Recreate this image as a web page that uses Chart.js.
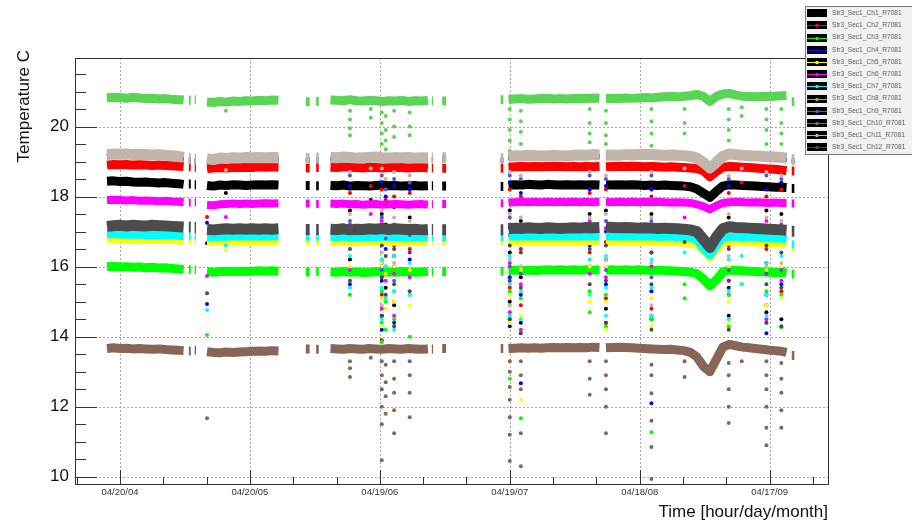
<!DOCTYPE html>
<html>
<head>
<meta charset="utf-8">
<script src="https://cdn.jsdelivr.net/npm/chart.js@4/dist/chart.umd.min.js"></script>
<style>
html,body{margin:0;padding:0;background:#fff;}
canvas{display:block;}
</style>
</head>
<body>
<canvas id="chart" width="912" height="524"></canvas>
<script>
// ---- axis labels ----
const timeLabels = ['04/20/04', '04/20/05', '04/19/06', '04/19/07', '04/18/08', '04/17/09'];
const timeTickPos = [0, 1, 2, 3, 4, 5];
const tempTicks = [10, 12, 14, 16, 18, 20];

const channelNames = [
  'Str3_Sec1_Ch1_R7081', 'Str3_Sec1_Ch2_R7081', 'Str3_Sec1_Ch3_R7081', 'Str3_Sec1_Ch4_R7081',
  'Str3_Sec1_Ch5_R7081', 'Str3_Sec1_Ch6_R7081', 'Str3_Sec1_Ch7_R7081', 'Str3_Sec1_Ch8_R7081',
  'Str3_Sec1_Ch9_R7081', 'Str3_Sec1_Ch10_R7081', 'Str3_Sec1_Ch11_R7081', 'Str3_Sec1_Ch12_R7081'
];

// ---- sampling times (axis units); null readings mark breaks in the run ----
const sampleTimes = [
  -0.10, -0.05, 0.00, 0.05, 0.10, 0.15, 0.20, 0.25, 0.30, 0.35, 0.40, 0.45, 0.49,
  0.51, 0.53, 0.545, 0.56, 0.575, 0.585, 0.62,
  0.67, 0.72, 0.77, 0.82, 0.87, 0.92, 0.97, 1.02, 1.07, 1.12, 1.17, 1.22,
  1.32,
  1.43, 1.46, 1.48, 1.51, 1.53, 1.58,
  1.62, 1.67, 1.72, 1.77, 1.82, 1.87, 1.92, 1.97, 2.02, 2.07, 2.12, 2.17, 2.22, 2.27, 2.32, 2.37,
  2.385, 2.40, 2.41, 2.45, 2.48, 2.51, 2.70, 2.93, 2.95, 2.97,
  2.99, 3.04, 3.09, 3.14, 3.19, 3.24, 3.29, 3.34, 3.39, 3.44, 3.49, 3.54, 3.59, 3.64, 3.69,
  3.715,
  3.74, 3.79, 3.84, 3.89, 3.94, 3.99, 4.04, 4.09, 4.14, 4.19, 4.24, 4.29, 4.34, 4.39, 4.44,
  4.49, 4.54, 4.59, 4.64, 4.69, 4.74, 4.79, 4.84, 4.89, 4.94, 4.99, 5.04, 5.09, 5.13,
  5.15, 5.17, 5.19
];

// ---- channel readings (deg C) at sampleTimes ----
const ch1 = [
  18.44,18.45,18.43,18.44,18.42,18.41,18.42,18.40,18.39,18.40,18.38,18.37,18.35,
  null,18.36,18.36,null,18.34,18.34,null,
  18.32,18.30,18.33,18.32,18.34,18.33,18.32,18.33,18.34,18.33,18.34,18.33,
  null,
  18.32,18.32,null,18.31,18.31,null,
  18.32,18.31,18.33,18.30,18.32,18.31,18.30,18.32,18.33,18.31,18.32,18.30,18.31,18.32,18.30,18.31,
  null,18.31,18.31,null,18.30,18.30,null,18.29,18.29,null,
  18.33,18.34,18.33,18.35,18.34,18.33,18.35,18.34,18.33,18.34,18.33,18.34,18.33,18.34,18.33,
  null,
  18.34,18.33,18.34,18.33,18.34,18.33,18.32,18.33,18.32,18.33,18.32,18.31,18.30,18.28,18.22,
  18.10,17.98,18.15,18.30,18.34,18.33,18.32,18.31,18.30,18.29,18.28,18.27,18.27,18.26,
  null,18.23,18.23
];
const ch2 = [
  18.90,18.92,18.91,18.92,18.90,18.91,18.90,18.89,18.90,18.89,18.88,18.87,18.86,
  null,18.85,18.85,null,18.84,18.84,null,
  18.80,18.82,18.83,18.82,18.84,18.83,18.84,18.83,18.85,18.84,18.85,18.84,
  null,
  18.82,18.82,null,18.83,18.83,null,
  18.84,18.83,18.85,18.84,18.83,18.82,18.84,18.83,18.82,18.83,18.84,18.83,18.82,18.83,18.84,18.82,
  null,18.82,18.82,null,18.81,18.81,null,18.81,18.81,null,
  18.84,18.85,18.86,18.85,18.86,18.85,18.86,18.87,18.86,18.85,18.86,18.85,18.86,18.85,18.86,
  null,
  18.85,18.86,18.87,18.86,18.87,18.86,18.85,18.86,18.85,18.84,18.85,18.84,18.83,18.82,18.80,
  18.74,18.57,18.72,18.84,18.86,18.85,18.84,18.83,18.82,18.80,18.79,18.78,18.76,18.74,
  null,18.73,18.73
];
const ch3 = [
  16.00,16.01,15.99,16.00,15.98,15.99,15.97,15.98,15.96,15.97,15.95,15.93,15.92,
  null,15.92,15.92,null,15.91,15.91,null,
  15.86,15.84,15.86,15.87,15.86,15.87,15.86,15.87,15.88,15.87,15.88,15.87,
  null,
  15.85,15.85,null,15.86,15.86,null,
  15.85,15.84,15.86,15.84,15.85,15.83,15.84,15.86,15.84,15.85,15.84,15.86,15.85,15.84,15.85,15.86,
  null,15.85,15.85,null,15.86,15.86,null,15.87,15.87,null,
  15.89,15.90,15.89,15.90,15.89,15.90,15.91,15.90,15.91,15.90,15.91,15.90,15.91,15.90,15.91,
  null,
  15.90,15.91,15.90,15.91,15.90,15.91,15.90,15.89,15.90,15.89,15.88,15.87,15.86,15.84,15.80,
  15.65,15.45,15.62,15.85,15.90,15.89,15.88,15.87,15.86,15.85,15.84,15.83,15.84,15.82,
  null,15.79,15.79
];
const ch4 = [
  19.14,19.16,19.15,19.16,19.14,19.15,19.14,19.13,19.14,19.12,19.11,19.09,19.06,
  null,19.03,19.03,null,19.01,19.01,null,
  19.02,19.00,19.04,19.03,19.05,19.04,19.06,19.05,19.06,19.05,19.06,19.05,
  null,
  19.03,19.03,null,19.04,19.04,null,
  19.06,19.05,19.07,19.06,19.04,19.05,19.06,19.07,19.05,19.04,19.06,19.05,19.06,19.04,19.05,19.04,
  null,19.04,19.04,null,19.05,19.05,null,19.03,19.03,null,
  19.09,19.11,19.10,19.12,19.11,19.10,19.11,19.12,19.11,19.10,19.12,19.13,19.12,19.14,19.13,
  null,
  19.12,19.13,19.12,19.14,19.13,19.14,19.15,19.14,19.13,19.12,19.13,19.12,19.11,19.09,19.04,
  18.92,18.76,18.92,19.09,19.16,19.14,19.12,19.11,19.10,19.09,19.08,19.07,19.06,19.04,
  null,19.00,19.00
];
const ch5 = [
  16.79,16.80,16.78,16.79,16.78,16.77,16.78,16.77,16.76,16.77,16.76,16.75,16.74,
  null,16.74,16.74,null,16.73,16.73,null,
  16.71,16.70,16.72,16.73,16.72,16.73,16.72,16.73,16.74,16.73,16.74,16.73,
  null,
  16.72,16.72,null,16.72,16.72,null,
  16.71,16.70,16.72,16.70,16.71,16.70,16.72,16.71,16.70,16.71,16.72,16.70,16.71,16.70,16.71,16.70,
  null,16.70,16.70,null,16.71,16.71,null,16.70,16.70,null,
  16.73,16.72,16.73,16.72,16.73,16.72,16.73,16.72,16.73,16.72,16.73,16.72,16.73,16.72,16.73,
  null,
  16.73,16.72,16.73,16.72,16.73,16.72,16.71,16.72,16.71,16.70,16.71,16.70,16.69,16.68,16.62,
  16.45,16.26,16.50,16.68,16.72,16.71,16.70,16.70,16.69,16.68,16.67,16.66,16.66,16.65,
  null,16.54,16.54
];
const ch6 = [
  17.90,17.91,17.90,17.89,17.90,17.88,17.89,17.88,17.87,17.88,17.86,17.85,17.84,
  null,17.83,17.83,null,17.84,17.84,null,
  17.76,17.75,17.78,17.79,17.80,17.79,17.80,17.79,17.80,17.81,17.80,17.81,
  null,
  17.80,17.80,null,17.79,17.79,null,
  17.80,17.79,17.80,17.78,17.79,17.77,17.78,17.79,17.77,17.78,17.79,17.78,17.77,17.78,17.79,17.77,
  null,17.78,17.78,null,17.79,17.79,null,17.81,17.81,null,
  17.83,17.84,17.85,17.84,17.85,17.84,17.85,17.84,17.85,17.84,17.85,17.84,17.85,17.84,17.85,
  null,
  17.85,17.84,17.85,17.84,17.85,17.84,17.85,17.84,17.85,17.84,17.83,17.84,17.83,17.82,17.78,
  17.72,17.64,17.74,17.82,17.84,17.85,17.84,17.83,17.84,17.83,17.82,17.83,17.82,17.82,
  null,17.80,17.80
];
const ch7 = [
  16.92,16.93,16.92,16.91,16.92,16.91,16.90,16.91,16.90,16.89,16.90,16.88,16.87,
  null,16.87,16.87,null,16.87,16.87,null,
  16.84,16.83,16.86,16.85,16.87,16.86,16.87,16.86,16.87,16.86,16.87,16.86,
  null,
  16.85,16.85,null,16.85,16.85,null,
  16.85,16.84,16.86,16.84,16.85,16.83,16.85,16.84,16.86,16.84,16.85,16.84,16.83,16.85,16.84,16.83,
  null,16.84,16.84,null,16.84,16.84,null,16.84,16.84,null,
  16.86,16.87,16.86,16.87,16.86,16.87,16.86,16.87,16.86,16.87,16.86,16.87,16.86,16.87,16.86,
  null,
  16.87,16.86,16.87,16.86,16.87,16.86,16.87,16.86,16.85,16.86,16.85,16.84,16.83,16.82,16.75,
  16.50,16.32,16.60,16.82,16.86,16.85,16.84,16.84,16.83,16.82,16.81,16.80,16.80,16.78,
  null,16.64,16.64
];
const ch8 = [
  20.82,20.84,20.83,20.81,20.84,20.82,20.80,20.81,20.79,20.80,20.78,20.77,20.76,
  null,20.75,20.75,null,20.77,20.77,null,
  20.70,20.69,20.72,20.70,20.73,20.72,20.74,20.73,20.75,20.74,20.76,20.75,
  null,
  20.71,20.71,null,20.72,20.72,null,
  20.76,20.75,20.74,20.77,20.74,20.73,20.75,20.74,20.72,20.74,20.73,20.75,20.72,20.74,20.73,20.75,
  null,20.73,20.73,null,20.73,20.73,null,20.77,20.77,null,
  20.78,20.79,20.80,20.78,20.79,20.80,20.81,20.79,20.80,20.79,20.80,20.81,20.80,20.82,20.81,
  null,
  20.80,20.81,20.80,20.82,20.81,20.82,20.83,20.82,20.84,20.85,20.86,20.85,20.87,20.88,20.92,
  20.86,20.72,20.86,20.93,20.95,20.90,20.87,20.86,20.85,20.87,20.86,20.87,20.88,20.89,
  null,20.71,20.71
];
const ch9 = [
  19.17,19.19,19.18,19.19,19.17,19.18,19.17,19.16,19.17,19.15,19.14,19.12,19.09,
  null,19.06,19.06,null,19.04,19.04,null,
  19.05,19.03,19.07,19.06,19.08,19.07,19.09,19.08,19.09,19.08,19.09,19.08,
  null,
  19.06,19.06,null,19.07,19.07,null,
  19.09,19.08,19.10,19.09,19.07,19.08,19.09,19.10,19.08,19.07,19.09,19.08,19.09,19.07,19.08,19.07,
  null,19.07,19.07,null,19.08,19.08,null,19.06,19.06,null,
  19.12,19.14,19.13,19.15,19.14,19.13,19.14,19.15,19.14,19.13,19.15,19.16,19.15,19.17,19.16,
  null,
  19.15,19.16,19.15,19.17,19.16,19.17,19.18,19.17,19.16,19.15,19.16,19.15,19.14,19.12,19.07,
  18.95,18.79,18.95,19.12,19.19,19.17,19.15,19.14,19.13,19.12,19.11,19.10,19.09,19.07,
  null,19.03,19.03
];
const ch10 = [
  13.66,13.68,13.66,13.67,13.65,13.66,13.65,13.64,13.65,13.63,13.62,13.61,13.60,
  null,13.59,13.59,null,13.61,13.61,null,
  13.57,13.55,13.54,13.56,13.55,13.56,13.57,13.58,13.59,13.58,13.60,13.59,
  null,
  13.65,13.65,null,13.64,13.64,null,
  13.66,13.65,13.64,13.66,13.65,13.64,13.66,13.65,13.64,13.66,13.65,13.64,13.66,13.65,13.64,13.65,
  null,13.65,13.65,null,13.66,13.66,null,13.66,13.66,null,
  13.66,13.67,13.68,13.67,13.68,13.67,13.68,13.69,13.68,13.69,13.68,13.69,13.68,13.70,13.69,
  null,
  13.68,13.69,13.70,13.69,13.68,13.67,13.66,13.65,13.64,13.63,13.64,13.62,13.60,13.55,13.42,
  13.15,13.00,13.35,13.70,13.78,13.74,13.70,13.68,13.66,13.64,13.62,13.60,13.58,13.55,
  null,13.46,13.46
];
const ch11 = [
  19.20,19.22,19.21,19.22,19.20,19.21,19.20,19.19,19.20,19.18,19.17,19.15,19.12,
  null,19.09,19.09,null,19.07,19.07,null,
  19.08,19.06,19.10,19.09,19.11,19.10,19.12,19.11,19.12,19.11,19.12,19.11,
  null,
  19.09,19.09,null,19.10,19.10,null,
  19.12,19.11,19.13,19.12,19.10,19.11,19.12,19.13,19.11,19.10,19.12,19.11,19.12,19.10,19.11,19.10,
  null,19.10,19.10,null,19.11,19.11,null,19.09,19.09,null,
  19.15,19.17,19.16,19.18,19.17,19.16,19.17,19.18,19.17,19.16,19.18,19.19,19.18,19.20,19.19,
  null,
  19.18,19.19,19.18,19.20,19.19,19.20,19.21,19.20,19.19,19.18,19.19,19.18,19.17,19.15,19.10,
  18.98,18.82,18.98,19.15,19.22,19.20,19.18,19.17,19.16,19.15,19.14,19.13,19.12,19.10,
  null,19.06,19.06
];
const ch12 = [
  17.15,17.17,17.18,17.16,17.18,17.17,17.16,17.18,17.17,17.16,17.15,17.14,17.13,
  null,17.13,17.13,null,17.12,17.12,null,
  17.06,17.05,17.07,17.08,17.07,17.08,17.07,17.08,17.07,17.08,17.07,17.08,
  null,
  17.06,17.06,null,17.06,17.06,null,
  17.07,17.06,17.08,17.05,17.07,17.06,17.08,17.07,17.09,17.06,17.08,17.07,17.06,17.07,17.05,17.06,
  null,17.06,17.06,null,17.05,17.05,null,17.05,17.05,null,
  17.08,17.10,17.09,17.11,17.10,17.09,17.11,17.10,17.09,17.10,17.11,17.10,17.12,17.11,17.12,
  null,
  17.13,17.12,17.11,17.12,17.11,17.10,17.11,17.10,17.09,17.10,17.09,17.08,17.07,17.05,17.00,
  16.78,16.55,16.85,17.08,17.14,17.12,17.11,17.10,17.09,17.08,17.07,17.06,17.05,17.04,
  null,17.01,17.01
];

// ---- isolated low readings, grouped by the time at which they occur ----
const dipTimes = [0.67, 0.815, 1.77, 1.93, 2.015, 2.045, 2.11, 2.23, 3.00, 3.085,
                  3.615, 3.74, 4.09, 4.345, 4.685, 4.785, 4.975, 5.09];

const dips1 = [[16.67],[18.1],[17.6,16.2],[17.9],[17.5,16.1,14.6],[17.2,15.4],[17.7,16.3,14.9],[17.4,15.8],
  [17.6,16.4,15.0],[17.3,15.7,14.4],[17.5,16.0],[17.6,16.2,14.8],[17.5,16.0,14.5],[17.8],[17.4,15.9,14.6],
  [17.9],[17.6,16.1,14.7],[17.5,15.9,14.5]];
const dips2 = [[17.42],[],[18.1,16.7],[18.3],[18.2,16.8,15.2,13.9],[17.9,16.0],[18.0,16.6,15.0],[18.1,16.5],
  [18.2,16.9,15.4],[18.0,16.5,14.9],[18.1,16.4],[18.2,16.7,15.1],[18.0,16.4,14.8],[18.3],[18.1,16.6,15.2],
  [18.4],[18.0,16.5,14.9],[18.2,16.8,15.3]];
const dips3 = [[14.05],[],[15.2],[],[15.3,14.4,13.85],[15.0,14.2],[15.3,14.5],[15.2,14.0],
  [15.3,14.5,12.8],[15.1,14.1,11.67],[15.3,14.7],[15.2,14.3],[15.3,14.5,11.27],[15.5,15.1],[15.2,14.3],
  [15.5],[15.3,14.4],[15.2,14.27]];
const dips4 = [[17.25,14.93],[],[18.3,16.9,15.5],[],[18.4,17.0,15.6,14.2],[18.0,16.5],[18.3,16.0,14.4],[18.2,16.2],
  [18.4,17.1,15.7,14.3],[18.1,16.7,15.2,12.67],[18.2,16.6],[18.3,17.0,15.5],[18.2,16.8,15.3,12.1],[],
  [18.3,16.9,15.4],[],[18.2,16.7,15.2,14.1],[18.4,16.9,15.5]];
const dips5 = [[],[16.47],[16.0],[],[16.1,15.1,14.3],[15.8,14.8],[16.0,15.0],[15.9,14.9],
  [16.1,15.2,14.4],[15.9,14.6,12.19],[16.0,15.0],[16.0,15.0,14.2],[16.1,15.1,14.3],[],[16.0,15.0,14.4],
  [16.3],[15.9,14.9],[16.0,15.1]];
const dips6 = [[15.73],[17.42],[17.2,15.9],[17.5],[17.3,16.2,14.8],[17.0,15.6],[17.2,15.8,14.6],[17.1,15.7],
  [17.2,16.0,14.7],[17.0,15.5,14.2],[17.3,15.8],[17.1,15.7,14.4],[17.2,16.0,14.6],[17.4],[17.1,15.6],
  [],[17.3,15.8,14.5],[17.0,15.6]];
const dips7 = [[14.76],[16.6],[16.3,15.4],[],[16.2,15.4,14.5],[16.0,15.1],[16.3,15.3,14.2],[16.1,15.2],
  [16.3,15.5,14.6],[16.0,15.3,14.5],[16.2,15.2],[16.3,15.4,14.6],[16.2,15.4,14.6],[16.4],[16.2,15.3,14.5],
  [16.3,15.5],[16.1,15.2,14.6],[16.3,15.4]];
const dips8 = [[],[20.45],[20.45,20.2,19.95,19.75],[20.5,20.25],[20.4,20.1,19.8,19.5,19.2],[20.3,19.9,19.6,19.35],
  [20.45,20.0,19.7],[20.4,20.0,19.75],[20.5,20.2,19.9,19.6,19.3],[20.45,20.15,19.85,19.5],[20.5,20.1,19.8,19.55],
  [20.45,20.1,19.75,19.5],[20.5,20.15,19.8,19.45],[20.5,20.1,19.8],[20.5,20.2,19.9,19.6],[20.55,20.3],
  [20.5,20.2,19.9,19.5],[20.5,20.1,19.8,19.5]];
const dips9 = [[],[],[18.6,17.3],[],[18.6,17.4,15.9],[18.2,16.8],[18.5,17.0,15.6],[18.4,16.9],
  [18.6,17.4,16.1],[18.5,17.2,15.8],[18.6,17.0],[18.5,17.3,15.9],[18.6,17.3,15.7],[],[18.5,17.2,15.9],
  [],[18.6,17.1,15.8],[18.5,17.2,15.9]];
const dips10 = [[11.67],[],[13.3,13.1,12.85],[13.4],[13.3,12.9,12.5,12.0,11.5,10.47],[13.2,12.7,12.3,11.8],
  [13.3,12.8,12.4,11.9,11.24],[13.3,12.9,12.4,11.7],[13.3,13.0,12.56,12.2,11.7,11.2,10.45],
  [13.3,12.9,12.5,11.24,10.3],[13.3,12.8,12.34],[13.3,12.9,12.5,12.0,11.24],[13.2,12.9,12.38,11.6,10.85,9.93],
  [13.3,12.85],[13.25,12.9,12.5,12.0,11.53],[13.3],[13.3,12.9,12.5,12.0,11.4,10.9],[13.25,12.8,12.4,11.9,11.4]];
const dips11 = [[],[18.76],[18.7,17.5],[18.8],[18.8,17.6,16.4,14.9],[18.5,17.1],[18.7,17.4,16.1],[18.6,17.3],
  [18.7,17.5,16.2,14.9],[18.6,17.4,16.0],[18.7,17.4],[18.6,17.5,16.2],[18.7,17.4,16.1,14.9],[18.8],
  [18.6,17.5,16.3],[18.8],[18.7,17.4,16.0],[18.6,17.3,16.1]];
const dips12 = [[15.24],[],[16.5,15.6],[],[16.6,15.7,14.6],[16.3,15.2],[16.5,15.5,14.3],[16.4,15.3],
  [16.6,15.6,14.5],[16.4,15.4,14.1],[16.5,15.5],[16.6,15.6,14.4],[16.4,15.5,14.2],[16.7],[16.5,15.6,14.2],
  [],[16.6,15.5,14.4],[16.4,15.4,14.3]];

// ---- styling ----
const FONT = '"Liberation Sans", Arial, Helvetica, sans-serif';
const seriesColors = ['#000000', '#ff0000', '#00ff00', '#0000ff', '#ffff00', '#ff00ff',
                      '#00ffff', '#59d454', '#5954d9', '#876657', '#c0b6ac', '#4c4c4c'];
const bandWidths = [9, 9, 9, 5, 8, 8, 8, 9, 5, 9, 11, 11];

const bandValues = [ch1, ch2, ch3, ch4, ch5, ch6, ch7, ch8, ch9, ch10, ch11, ch12];
const dipValues = [dips1, dips2, dips3, dips4, dips5, dips6, dips7, dips8, dips9, dips10, dips11, dips12];

const datasets = [];
channelNames.forEach((name, k) => {
  // later channels are painted over earlier ones
  datasets.push({
    label: name,
    isBand: true,
    data: sampleTimes.map((t, i) => ({ x: t, y: bandValues[k][i] })),
    showLine: true,
    spanGaps: false,
    borderColor: seriesColors[k],
    backgroundColor: seriesColors[k],
    borderWidth: bandWidths[k],
    borderJoinStyle: 'round',
    pointRadius: 0,
    pointHoverRadius: 0,
    order: 2 * (12 - k) + 1
  });
  datasets.push({
    label: name + ' (low)',
    isBand: false,
    data: dipValues[k].flatMap((col, i) => col.map(v => ({ x: dipTimes[i], y: v }))),
    showLine: false,
    pointRadius: 2,
    pointHoverRadius: 0,
    pointBorderWidth: 0,
    pointBackgroundColor: seriesColors[k],
    backgroundColor: seriesColors[k],
    borderColor: seriesColors[k],
    order: 2 * (12 - k)
  });
});

// grid lines under the data
const gridPlugin = {
  id: 'rootGrid',
  beforeDatasetsDraw(chart) {
    const { ctx, chartArea: a, scales: { x, y } } = chart;
    ctx.save();
    ctx.strokeStyle = '#a8a8a8';
    ctx.lineWidth = 1;
    ctx.setLineDash([2, 2]);
    tempTicks.forEach(v => {
      const py = Math.round(y.getPixelForValue(v)) + 0.5;
      ctx.beginPath(); ctx.moveTo(a.left, py); ctx.lineTo(a.right, py); ctx.stroke();
    });
    timeTickPos.forEach(v => {
      const px = Math.round(x.getPixelForValue(v)) + 0.5;
      ctx.beginPath(); ctx.moveTo(px, a.top); ctx.lineTo(px, a.bottom); ctx.stroke();
    });
    ctx.restore();
  }
};

// frame with inward tick marks
const framePlugin = {
  id: 'rootFrame',
  afterDatasetsDraw(chart) {
    const { ctx, chartArea: a, scales: { x, y } } = chart;
    ctx.save();
    ctx.strokeStyle = '#333';
    ctx.lineWidth = 1;
    ctx.setLineDash([]);
    ctx.beginPath();
    for (let v = 10; v <= y.max; v += 0.5) {
      const py = Math.round(y.getPixelForValue(v)) + 0.5;
      const len = (v % 2 === 0) ? 22 : 11;
      ctx.moveTo(a.left, py); ctx.lineTo(a.left + len, py);
    }
    for (let k = -3; k <= 18; k++) {
      const t = k / 3;
      if (t < x.min || t > x.max) continue;
      const px = Math.round(x.getPixelForValue(t)) + 0.5;
      const len = (k % 3 === 0) ? 14 : 7;
      ctx.moveTo(px, a.bottom); ctx.lineTo(px, a.bottom - len);
    }
    ctx.stroke();
    ctx.strokeRect(Math.round(a.left) + 0.5, Math.round(a.top) + 0.5,
                   Math.round(a.right - a.left), Math.round(a.bottom - a.top));
    // vertical axis title
    ctx.translate(24, 50);
    ctx.rotate(-Math.PI / 2);
    ctx.font = '17px ' + FONT;
    ctx.fillStyle = '#111';
    ctx.textAlign = 'right';
    ctx.textBaseline = 'middle';
    ctx.fillText('Temperature C', 0, 0);
    ctx.restore();
  }
};

// boxed legend in the top-right corner
const legendPlugin = {
  id: 'rootLegend',
  afterDraw(chart) {
    const ctx = chart.ctx;
    const bands = chart.data.datasets.filter(d => d.isBand);
    ctx.save();
    ctx.fillStyle = '#f1f1f1';
    ctx.fillRect(806, 7, 110, 147);
    ctx.strokeStyle = '#7a7a7a';
    ctx.lineWidth = 1;
    ctx.strokeRect(805.5, 6.5, 110, 148);
    ctx.font = '6.6px ' + FONT;
    ctx.textBaseline = 'middle';
    ctx.textAlign = 'left';
    bands.forEach((d, i) => {
      const cy = 13.3 + 12.18 * i;
      ctx.fillStyle = '#000';
      ctx.fillRect(807, Math.round(cy - 4), 20, 8);
      ctx.strokeStyle = d.borderColor;
      ctx.beginPath();
      ctx.moveTo(807, Math.round(cy) + 0.5);
      ctx.lineTo(827, Math.round(cy) + 0.5);
      ctx.stroke();
      ctx.fillStyle = d.borderColor;
      ctx.beginPath();
      ctx.arc(817, Math.round(cy) + 0.5, 1.8, 0, Math.PI * 2);
      ctx.fill();
      ctx.fillStyle = '#5a5a5a';
      ctx.fillText(d.label, 832, cy);
    });
    ctx.restore();
  }
};

new Chart(document.getElementById('chart'), {
  type: 'scatter',
  data: { datasets },
  plugins: [gridPlugin, framePlugin, legendPlugin],
  options: {
    responsive: false,
    devicePixelRatio: 1,
    animation: false,
    events: [],
    layout: { padding: { top: 58, right: 84, left: 0, bottom: 0 } },
    plugins: { legend: { display: false }, tooltip: { enabled: false } },
    scales: {
      x: {
        type: 'linear',
        position: 'bottom',
        min: -0.346,
        max: 5.449,
        afterBuildTicks: s => { s.ticks = timeTickPos.map(v => ({ value: v })); },
        afterFit: s => { s.height = 40; },
        grid: { display: false, drawTicks: false },
        border: { display: false },
        ticks: {
          callback: (v, i) => timeLabels[i],
          font: { family: FONT, size: 9.5 },
          color: '#333',
          padding: 3,
          maxRotation: 0,
          autoSkip: false
        },
        title: {
          display: true,
          text: 'Time [hour/day/month]',
          align: 'end',
          font: { family: FONT, size: 17 },
          color: '#111',
          padding: { top: 0, bottom: 1 }
        }
      },
      y: {
        type: 'linear',
        min: 9.79,
        max: 21.96,
        afterBuildTicks: s => { s.ticks = tempTicks.map(v => ({ value: v })); },
        afterFit: s => { s.width = 75; },
        grid: { display: false, drawTicks: false },
        border: { display: false },
        ticks: {
          callback: v => String(v),
          font: { family: FONT, size: 17 },
          color: '#111',
          padding: 6
        }
      }
    }
  }
});
</script>
</body>
</html>
